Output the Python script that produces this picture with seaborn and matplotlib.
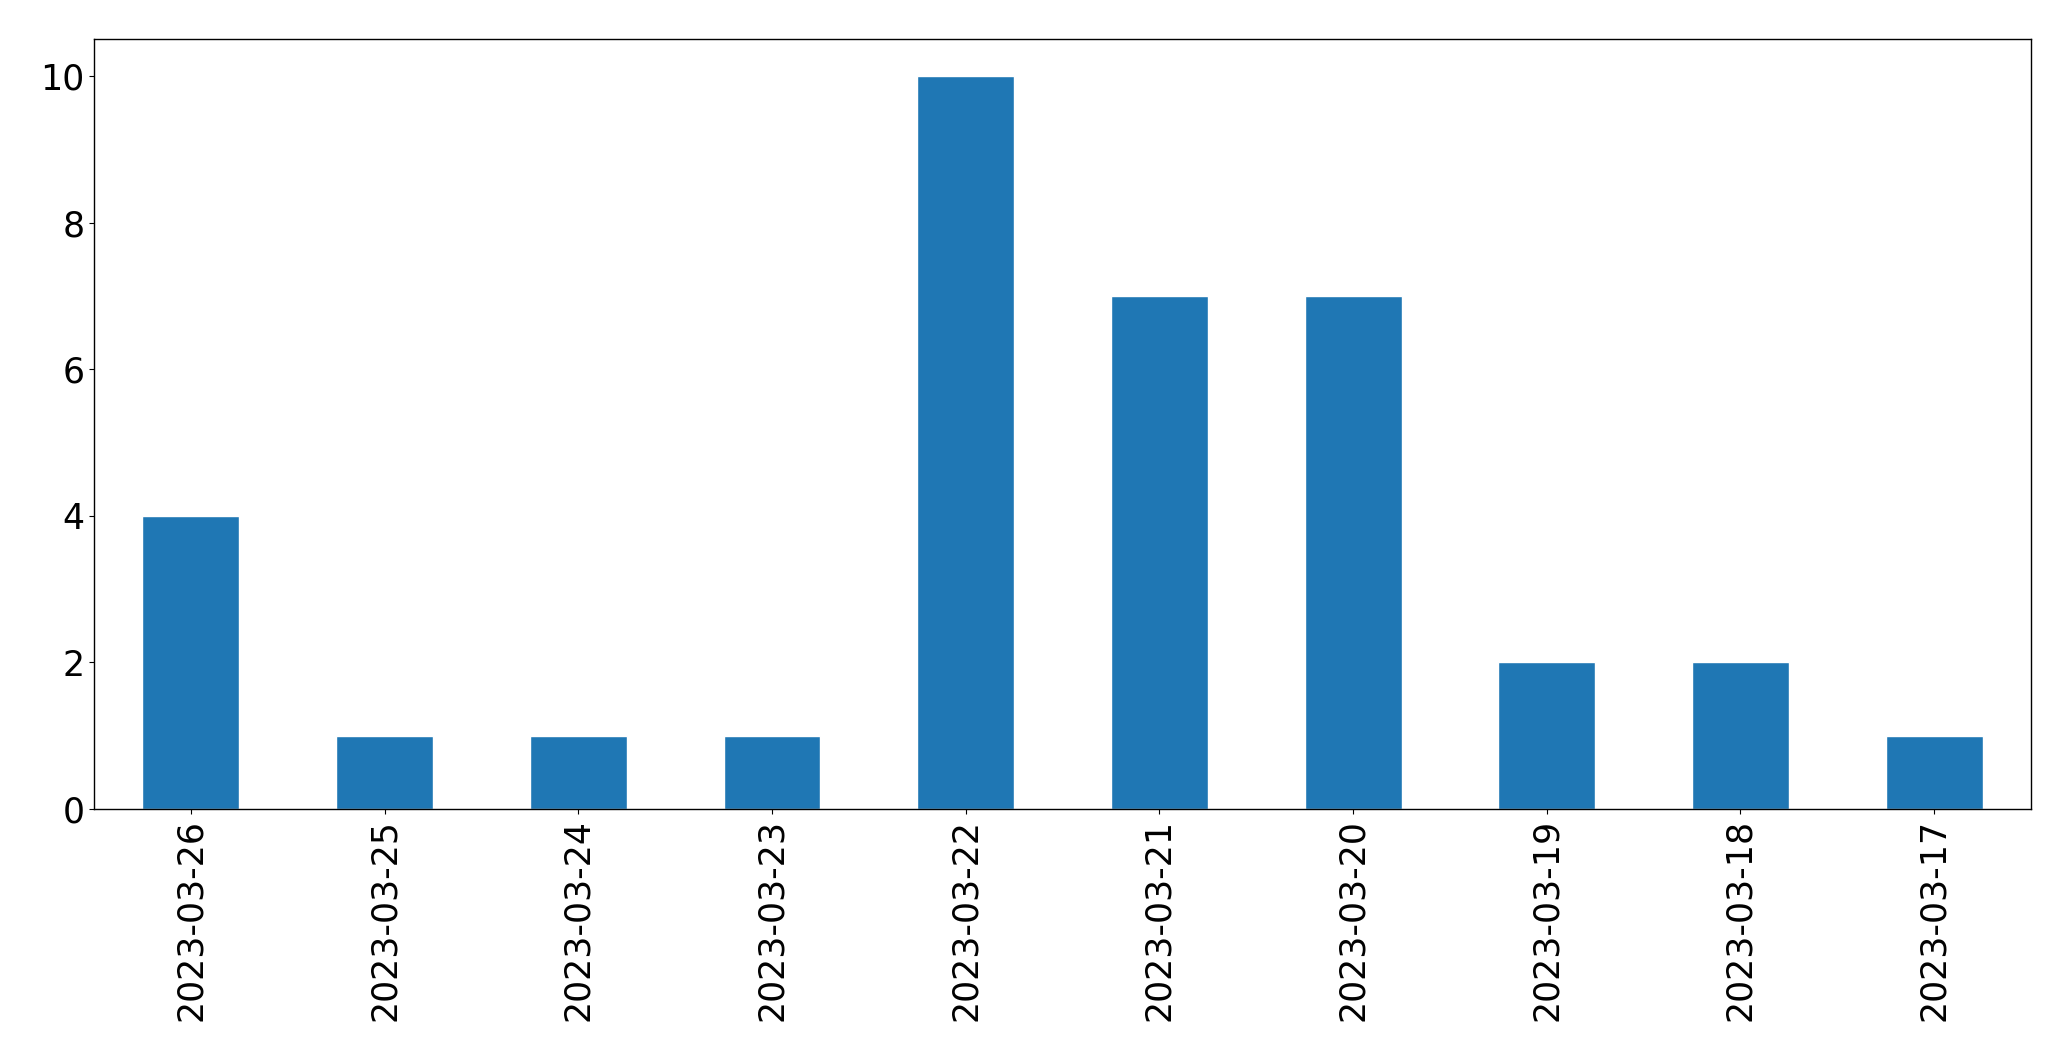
import matplotlib
matplotlib.use("Agg")
import matplotlib.pyplot as plt
import seaborn as sns
import pandas as pd

dates = ['2023-03-26', '2023-03-25', '2023-03-24', '2023-03-23', '2023-03-22',
         '2023-03-21', '2023-03-20', '2023-03-19', '2023-03-18', '2023-03-17']
counts = [4, 1, 1, 1, 10, 7, 7, 2, 2, 1]

df = pd.DataFrame({'date': dates, 'count': counts})

sns.set_style('ticks')
plt.rcParams['font.family'] = ['DejaVu Sans']

fig, ax = plt.subplots(figsize=(20.71, 10.61), dpi=100)
sns.barplot(data=df, x='date', y='count', color='#1f77b4', saturation=1,
            width=0.5, ax=ax)

ax.set_xlim(-0.5, len(dates) - 0.5)
ax.set_ylim(0, 10.5)
ax.set_yticks([0, 2, 4, 6, 8, 10])
ax.set_xlabel('')
ax.set_ylabel('')
ax.tick_params(axis='both', labelsize=25, colors='black')
ax.tick_params(axis='x', rotation=90)
for s in ax.spines.values():
    s.set_visible(True)
    s.set_color('black')
    s.set_linewidth(1)

fig.subplots_adjust(left=0.0454, right=0.9807, top=0.963, bottom=0.2375)
fig.savefig('out.png', dpi=100)
